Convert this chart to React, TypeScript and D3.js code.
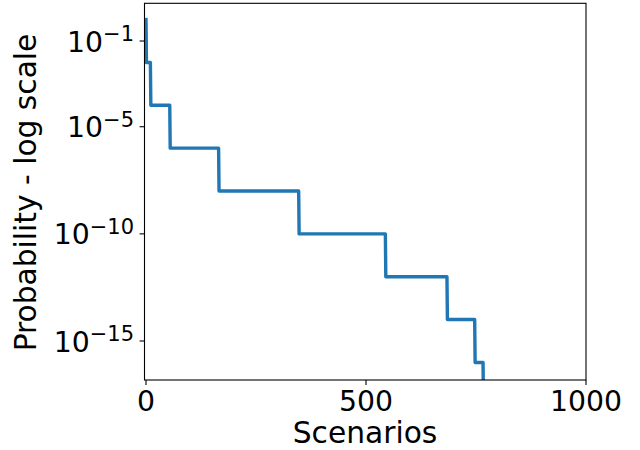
import React from "react";
import * as d3 from "d3";

// Step levels: scenario index where each probability level starts, and log10 probability
const levelStart = [0, 1, 11, 55, 166, 348, 545, 685, 748, 767];
const levelEnd = [0, 10, 54, 165, 347, 544, 684, 747, 766, 790];
const logProb = [0, -2, -4, -6, -8, -10, -12, -14, -16, -18];

const xTicks = [0, 500, 1000];
const yTickExp = [-1, -5, -10, -15];

const W = 640;
const H = 450;
const L = 144.5;
const R = 586;
const T = 3.3;
const B = 380;
const FS = 28.3;
const SFS = 21;
const LFS = 29.7;
const FONT = "'DejaVu Sans', sans-serif";

export default function App() {
  const x = d3.scaleLinear().domain([-3.4, 1000]).range([L, R]);
  const y = d3.scaleLog().domain([Math.pow(10, 0.76), Math.pow(10, -16.82)]).range([T, B]);

  const pts: [number, number][] = [];
  levelStart.forEach((s, i) => {
    const v = Math.pow(10, logProb[i]);
    pts.push([s, v]);
    if (levelEnd[i] !== s) pts.push([levelEnd[i], v]);
  });

  const line = d3
    .line<[number, number]>()
    .x((d) => x(d[0]))
    .y((d) => y(d[1]));

  const ts = { fontFamily: FONT, fontSize: `${FS}px` } as React.CSSProperties;
  const ls = { fontFamily: FONT, fontSize: `${LFS}px` } as React.CSSProperties;

  return (
    <svg width={W} height={H} style={{ position: "absolute", left: 0, top: 0 }}>
      <rect x={0} y={0} width={W} height={H} fill="white" />
      <defs>
        <clipPath id="clip">
          <rect x={L} y={T} width={R - L} height={B - T} />
        </clipPath>
      </defs>
      <path
        d={line(pts) || ""}
        fill="none"
        stroke="#1f77b4"
        strokeWidth={3.4}
        strokeLinecap="square"
        strokeLinejoin="round"
        clipPath="url(#clip)"
      />
      <rect x={L} y={T} width={R - L} height={B - T} fill="none" stroke="black" strokeWidth={1.1} />
      {xTicks.map((t) => (
        <g key={t}>
          <line x1={x(t)} x2={x(t)} y1={B} y2={B + 4.9} stroke="black" strokeWidth={1.1} />
          <text x={x(t)} y={411} textAnchor="middle" style={ts} fill="black">
            {t}
          </text>
        </g>
      ))}
      {yTickExp.map((e) => {
        const ty = y(Math.pow(10, e));
        return (
          <g key={e}>
            <line x1={L - 4.9} x2={L} y1={ty} y2={ty} stroke="black" strokeWidth={1.1} />
            <text x={134} y={ty + 10.5} textAnchor="end" style={ts} fill="black">
              10
              <tspan dy={-10.5} style={{ fontSize: `${SFS}px` }}>
                {"\u2212" + Math.abs(e)}
              </tspan>
            </text>
          </g>
        );
      })}
      <text x={365} y={443.3} textAnchor="middle" style={ls} fill="black">
        Scenarios
      </text>
      <text
        transform={`translate(36, 192.5) rotate(-90)`}
        textAnchor="middle"
        style={ls}
        fill="black"
      >
        Probability - log scale
      </text>
    </svg>
  );
}
